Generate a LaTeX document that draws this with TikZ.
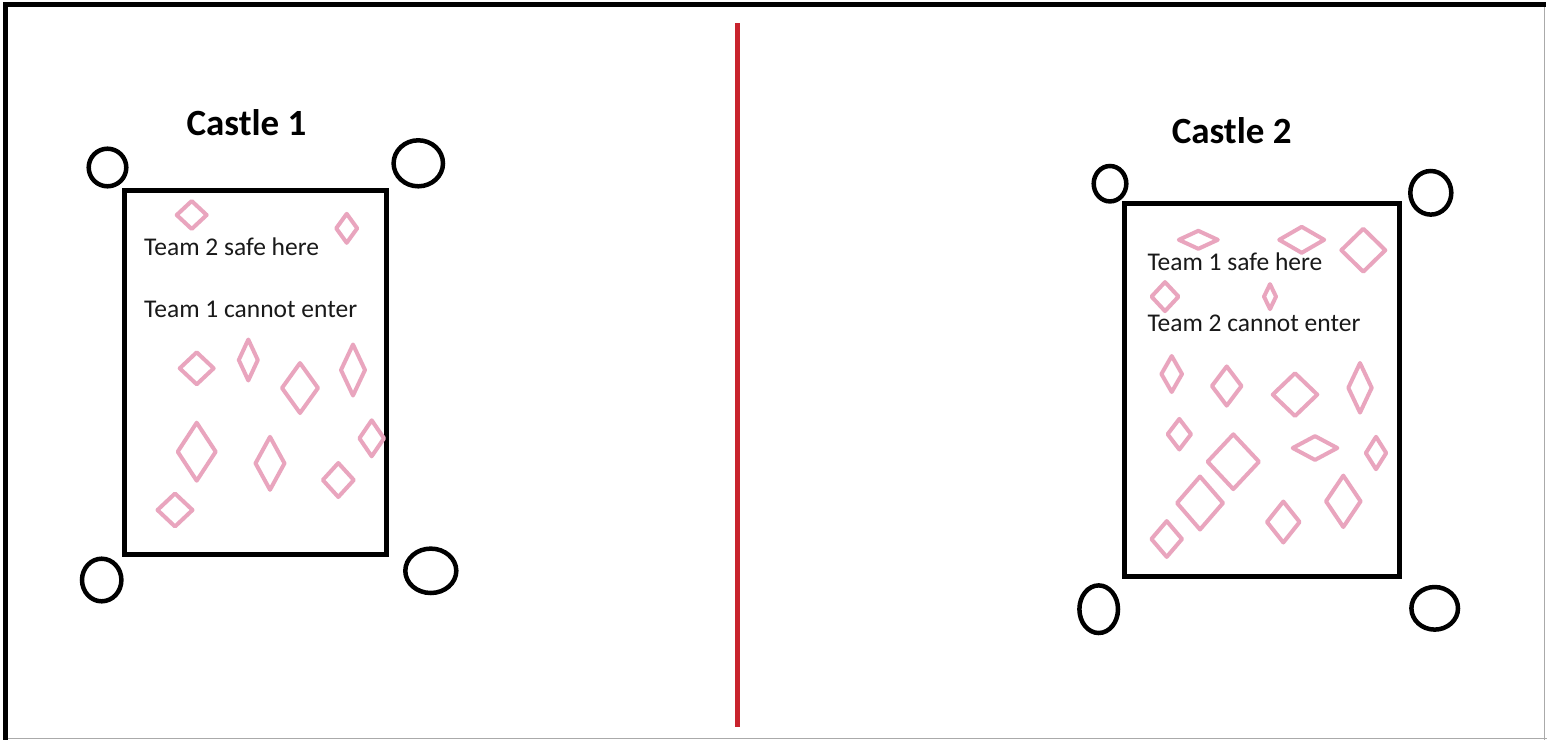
\documentclass[tikz,border=0pt]{standalone}
\usepackage{fontspec}
\setmainfont{Carlito}
\definecolor{dpink}{RGB}{233,165,190}
\definecolor{divred}{RGB}{200,35,45}
\definecolor{txt}{RGB}{25,25,25}
\definecolor{fgray}{RGB}{170,170,170}
\newcommand{\dia}[4]{\draw[diam] (#1,#2) ++(0,-#4) -- ++(#3,#4) -- ++(-#3,#4) -- ++(-#3,-#4) -- cycle;}
\begin{document}
\begin{tikzpicture}[x=1pt,y=-1pt,
  diam/.style={draw=dpink,line width=4pt,line join=round},
  tower/.style={draw=black,line width=4.5pt},
  wall/.style={draw=black,line width=5pt},
  castletitle/.style={font=\fontsize{37}{40}\selectfont\bfseries,anchor=base,inner sep=0pt},
  note/.style={font=\fontsize{25.5}{28}\selectfont,text=txt,anchor=base west,inner sep=0pt}]
\useasboundingbox (0,0) rectangle (1547,740);
\fill[white] (0,0) rectangle (1547,740);
% frame
\draw[fgray,line width=1.5pt] (1544.5,6) -- (1544.5,740);
\draw[fgray,line width=1.5pt] (5,738.7) -- (1547,738.7);
\draw[black,line width=5pt] (3,4.2) -- (1545.5,4.2);
\draw[black,line width=5pt] (5.8,2) -- (5.8,740);
% divider
\coordinate (dtop) at (737.5,23);
\coordinate (dbot) at (737.5,727);
\draw[divred,line width=4.5pt] (dtop) -- (dbot);

% ---------- Castle 1 ----------
\node[castletitle] (t1) at (246.5,135) {Castle 1};
\draw[wall] (124.2,190.5) rectangle (386.7,554.5);
\draw[tower] (107.5,167.5) ellipse [x radius=18.8pt, y radius=18.8pt];
\draw[tower] (418.3,163.3) ellipse [x radius=24.7pt, y radius=23pt];
\draw[tower] (101.7,580) ellipse [x radius=19.7pt, y radius=21.3pt];
\draw[tower] (430.8,570.8) ellipse [x radius=25.5pt, y radius=22.2pt];
\dia{191.7}{215}{15}{14}
\dia{346.7}{228.3}{10.5}{14.5}
\dia{196.7}{368.3}{17}{16}
\dia{248.3}{360}{9.5}{20.5}
\dia{300}{388}{18}{25}
\dia{353}{370}{12}{25.5}
\dia{196.7}{451.7}{19}{29}
\dia{270}{463.3}{14.5}{26.5}
\dia{371.7}{438.3}{12.3}{18}
\dia{338.3}{480}{15.5}{17}
\dia{175}{510}{17.5}{16.5}
\node[note] (s1) at (144,255) {Team 2 safe here};
\node[note] (c1) at (144,317) {Team 1 cannot enter};

% ---------- Castle 2 ----------
\node[castletitle] (t2) at (1231.7,143.5) {Castle 2};
\draw[wall] (1124.5,203.3) rectangle (1399.8,576.3);
\draw[tower] (1110,183.7) ellipse [x radius=16.3pt, y radius=17.7pt];
\draw[tower] (1430.8,192.8) ellipse [x radius=20.5pt, y radius=21.8pt];
\draw[tower] (1098.7,609.2) ellipse [x radius=19.3pt, y radius=23.8pt];
\draw[tower] (1434.7,608.3) ellipse [x radius=23.3pt, y radius=21.3pt];
\dia{1198.3}{239.8}{19.5}{9}
\dia{1301.7}{239.8}{22.5}{13}
\dia{1363.3}{250.2}{22}{21.5}
\dia{1165}{296.6}{13.5}{14.5}
\dia{1270}{296.6}{6}{12.5}
\dia{1171.7}{374}{10.3}{18}
\dia{1226.7}{386}{14.8}{19.6}
\dia{1295}{394.6}{22.3}{21.4}
\dia{1360}{387.8}{11.7}{24.8}
\dia{1179.3}{434.2}{11.7}{15.3}
\dia{1233.3}{461.7}{25.7}{27.4}
\dia{1315}{448}{22.3}{11.9}
\dia{1376}{453}{10.2}{16.2}
\dia{1200}{503}{23}{26.5}
\dia{1283.3}{522}{16.3}{20.5}
\dia{1343.3}{501.3}{17.3}{25.7}
\dia{1166.7}{539}{15.3}{17.9}
\node[note] (s2) at (1147.3,270) {Team 1 safe here};
\node[note] (c2) at (1147.3,331) {Team 2 cannot enter};
\end{tikzpicture}
\end{document}
